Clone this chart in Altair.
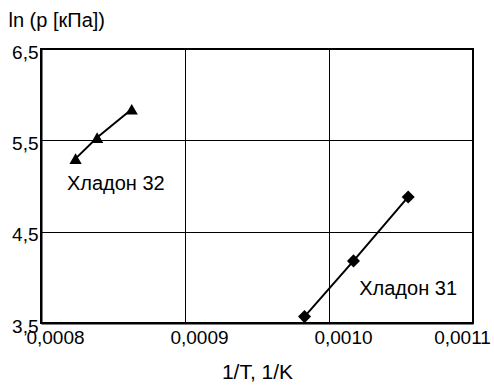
import altair as alt
import pandas as pd

# Хладон 32 (triangles)
x32 = [0.000824, 0.000839, 0.000863]
y32 = [5.30, 5.53, 5.84]
# Хладон 31 (diamonds)
x31 = [0.000983, 0.001017, 0.001055]
y31 = [3.57, 4.18, 4.88]

label_text = ["Хладон 32", "Хладон 31"]
label_x = [0.000818, 0.001021]
label_y = [4.96, 3.81]

x_ticks = [0.0008, 0.0009, 0.0010, 0.0011]
y_ticks = [3.5, 4.5, 5.5, 6.5]

FONT = "Liberation Sans"

d32 = pd.DataFrame({"x": x32, "y": y32})
d31 = pd.DataFrame({"x": x31, "y": y31})
dl = pd.DataFrame({"x": label_x, "y": label_y, "t": label_text})

xs = alt.Scale(domain=[0.0008, 0.0011], nice=False, zero=False)
ys = alt.Scale(domain=[3.5, 6.5], nice=False, zero=False)

xenc = alt.X("x:Q", scale=xs, title="1/T,  1/K",
             axis=alt.Axis(values=x_ticks,
                           labelExpr="replace(format(datum.value, '.4f'), '.', ',')",
                           grid=True, ticks=False, labelPadding=5, labelFlush=False,
                           labelOffset={"condition": {"test": "datum.value > 0.00105", "value": -11}, "value": 14},
                           titleFontSize=21, titlePadding=14))
yenc = alt.Y("y:Q", scale=ys, title="ln (p [кПа])",
             axis=alt.Axis(values=y_ticks,
                           labelExpr="replace(format(datum.value, '.1f'), '.', ',')",
                           grid=True, ticks=False, labelPadding=3, labelOffset=3, labelFlush=False,
                           titleAngle=0, titleAlign="left", titleBaseline="alphabetic",
                           titleFontSize=20, titleX=-33, titleY=-23))

line32 = alt.Chart(d32).mark_line(color="black", strokeWidth=2).encode(x=xenc, y=yenc)
pts32 = alt.Chart(d32).mark_point(shape="triangle-up", filled=True, color="black",
                                  size=150, opacity=1).encode(x=xenc, y=yenc)
line31 = alt.Chart(d31).mark_line(color="black", strokeWidth=2).encode(x=xenc, y=yenc)
pts31 = alt.Chart(d31).mark_point(shape="diamond", filled=True, color="black",
                                  size=170, opacity=1).encode(x=xenc, y=yenc)
labels = alt.Chart(dl).mark_text(align="left", baseline="alphabetic", font=FONT,
                                 fontSize=20, color="black").encode(x=xenc, y=yenc, text="t:N")

chart = alt.layer(line32, pts32, line31, pts31, labels).properties(
    width=432, height=274,
    background="white",
    autosize=alt.AutoSizeParams(type="none"),
    padding={"left": 41, "top": 49, "right": 21, "bottom": 62},
).configure_view(stroke="black", strokeWidth=2).configure_axis(
    domainColor="black", domainWidth=2, gridColor="black", gridWidth=1, gridOpacity=1,
    labelFont=FONT, labelFontSize=19, labelColor="black",
    titleFont=FONT, titleFontWeight="normal", titleColor="black",
)

chart.save("out.html", embed_options={"renderer": "svg", "actions": False})
